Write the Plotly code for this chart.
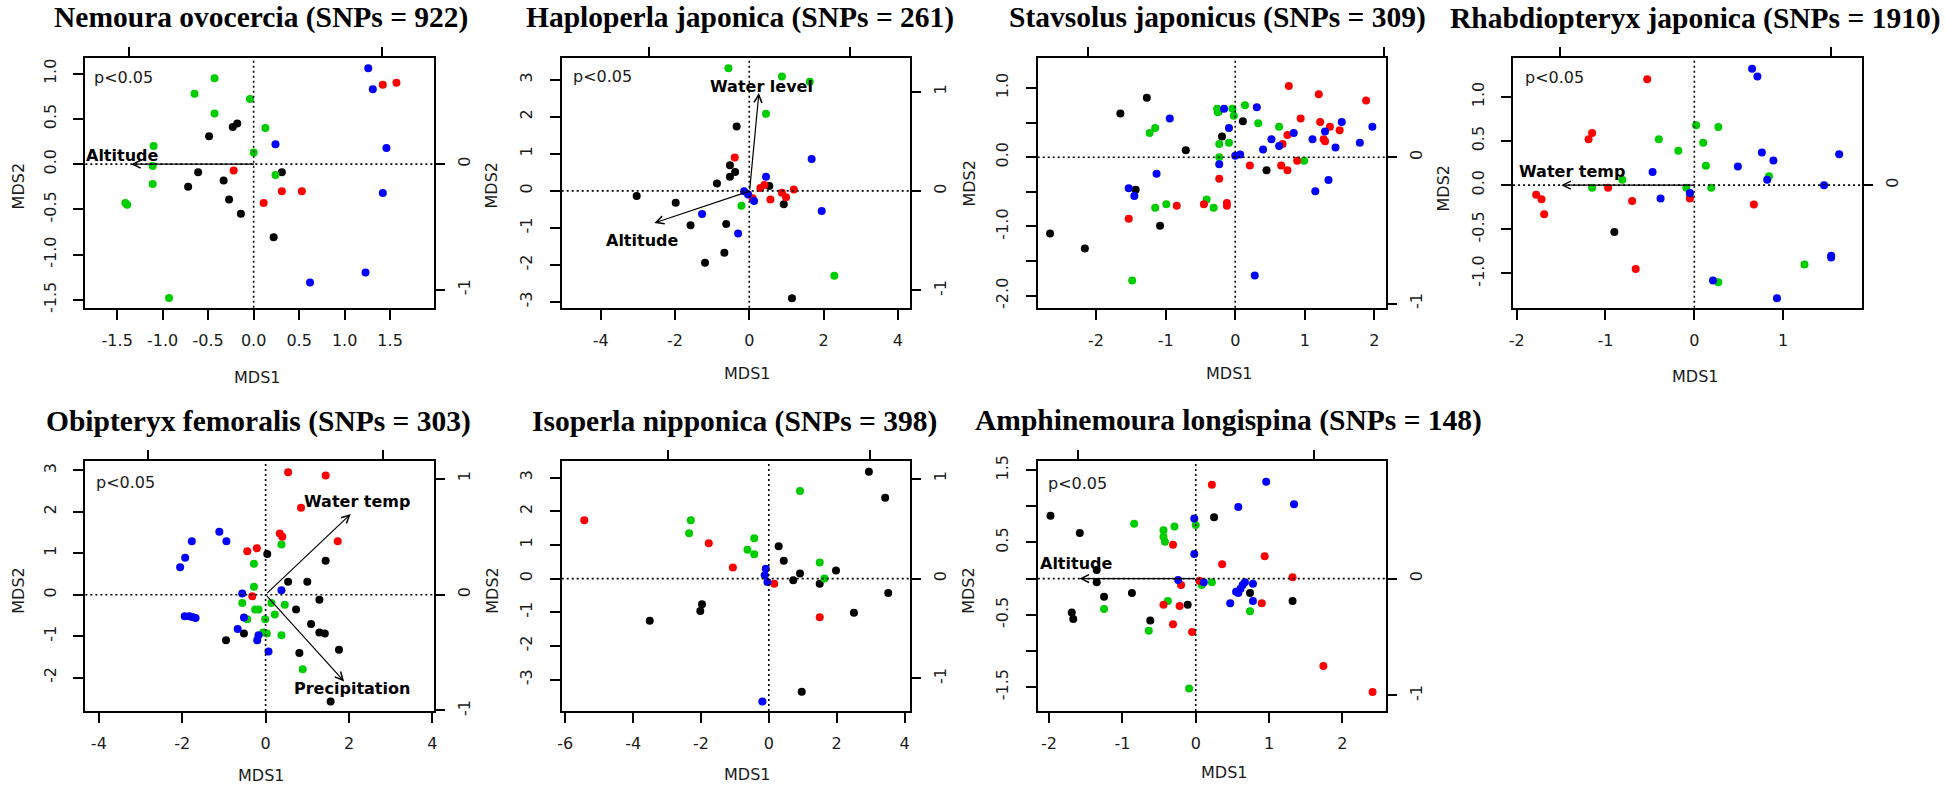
import plotly.graph_objects as go

W, H = 1946, 791
FONT = "DejaVu Sans"
TXT = "#1a1a1a"
COL = {"black": "#000000", "green": "#00CD00", "red": "#FF0000", "blue": "#0000FF"}

# ---------------- data (MDS1, MDS2) ----------------
NEM_GREEN = [(-0.43,0.95),(-0.65,0.78),(-0.04,0.72),(-0.43,0.56),(0.13,0.40),(-1.10,0.20),(0.00,0.13),(-1.11,-0.02),(0.24,-0.12),(-1.11,-0.22),(-1.41,-0.43),(-1.39,-0.45),(-0.93,-1.48)]
NEM_BLACK = [(-0.23,0.41),(-0.18,0.45),(-0.49,0.31),(-0.61,-0.09),(0.31,-0.09),(-0.72,-0.25),(-0.33,-0.18),(-0.27,-0.39),(-0.14,-0.55),(0.22,-0.81)]
NEM_RED = [(1.42,0.88),(1.57,0.90),(-0.22,-0.07),(0.31,-0.30),(0.53,-0.30),(0.11,-0.43)]
NEM_BLUE = [(1.26,1.06),(1.31,0.83),(0.24,0.22),(1.46,0.18),(1.42,-0.32),(1.23,-1.20),(0.62,-1.31)]

HAP_GREEN = [(-0.56,3.31),(0.88,3.09),(1.63,2.95),(0.45,2.08),(-0.21,-0.40),(2.29,-2.29)]
HAP_BLACK = [(-0.34,1.74),(-0.52,0.69),(-0.38,0.51),(-0.52,0.38),(-0.87,0.20),(-3.03,-0.14),(-1.98,-0.32),(-1.58,-0.93),(-0.62,-0.89),(-0.67,-1.67),(-1.19,-1.94),(0.54,0.13),(0.93,-0.36),(1.15,-2.90)]
HAP_RED = [(-0.39,0.90),(0.30,0.08),(0.41,0.16),(0.57,-0.23),(0.88,-0.05),(0.99,-0.17),(1.20,0.04),(0.09,-0.20)]
HAP_BLUE = [(0.45,0.38),(1.68,0.86),(-0.14,-0.01),(-0.03,-0.10),(0.13,-0.27),(-1.27,-0.62),(-0.30,-1.15),(1.95,-0.54)]

STA_BLACK = [(-2.66,-1.10),(-2.16,-1.32),(-1.65,0.63),(-1.27,0.86),(-0.71,0.10),(-1.43,-0.47),(-1.08,-0.99),(-0.19,0.30),(0.11,0.52),(0.45,-0.19),(-0.24,0.66)]
STA_GREEN = [(-1.48,-1.78),(-1.23,0.35),(-1.15,0.42),(-1.15,-0.73),(-0.99,-0.68),(-0.41,-0.61),(-0.31,-0.73),(-0.26,0.70),(-0.25,0.65),(-0.04,0.70),(-0.02,0.60),(0.14,0.75),(0.33,0.49),(0.63,0.44),(-0.23,0.19),(-0.09,0.21),(-0.23,0.00),(0.99,-0.05)]
STA_BLUE = [(-0.94,0.56),(-0.16,0.70),(-0.09,0.42),(0.31,0.72),(-0.23,-0.10),(-1.13,-0.24),(-1.53,-0.45),(-1.45,-0.56),(0.00,0.02),(0.07,0.04),(0.40,0.11),(0.52,0.26),(0.63,0.16),(0.84,0.35),(1.11,0.26),(1.29,0.37),(1.44,0.14),(1.53,0.51),(1.79,0.21),(1.97,0.44),(1.34,-0.33),(1.15,-0.49),(0.28,-1.71)]
STA_RED = [(-1.53,-0.89),(-0.84,-0.70),(-0.45,-0.68),(-0.12,-0.66),(-0.12,-0.70),(-0.23,-0.31),(0.21,-0.12),(0.66,-0.12),(0.75,-0.19),(0.89,-0.05),(0.68,0.19),(0.75,0.32),(0.94,0.56),(0.77,1.03),(1.20,0.91),(1.22,0.51),(1.36,0.44),(1.27,0.26),(1.29,0.23),(1.50,0.39),(1.88,0.82)]

RHA_RED = [(-0.53,1.20),(-1.15,0.59),(-1.19,0.52),(-0.97,-0.03),(-1.78,-0.11),(-1.72,-0.16),(-1.69,-0.33),(-0.70,-0.18),(-0.66,-0.95),(-0.05,-0.15),(0.67,-0.22)]
RHA_GREEN = [(-0.40,0.52),(-0.18,0.39),(0.02,0.68),(0.27,0.66),(0.10,0.48),(0.13,0.22),(0.19,-0.03),(-0.81,0.06),(-1.15,-0.03),(-0.09,-0.03),(-0.05,-0.11),(0.84,0.10),(1.24,-0.90),(0.27,-1.10)]
RHA_BLUE = [(0.65,1.32),(0.71,1.23),(0.76,0.37),(0.89,0.28),(1.63,0.35),(0.49,0.21),(0.82,0.06),(1.46,0.00),(-0.47,0.15),(-0.38,-0.15),(-0.05,-0.09),(1.54,-0.80),(1.54,-0.82),(0.21,-1.08),(0.93,-1.28)]
RHA_BLACK = [(-0.90,-0.53)]

OBI_BLUE = [(-1.11,1.52),(-0.94,1.29),(-1.77,1.29),(-1.93,0.89),(-2.05,0.66),(-0.56,0.03),(0.38,0.11),(-1.94,-0.52),(-1.83,-0.52),(-1.76,-0.54),(-1.68,-0.56),(-0.52,-0.55),(-0.67,-0.83),(-0.17,-0.98),(-0.20,-1.10),(0.07,-1.37)]
OBI_RED = [(0.54,2.96),(1.44,2.88),(0.85,2.10),(0.34,1.48),(0.40,1.40),(1.73,1.29),(-0.44,1.05),(-0.21,1.12),(-0.32,-0.04)]
OBI_BLACK = [(0.04,0.98),(1.44,0.82),(0.54,0.31),(1.00,0.31),(1.29,-0.12),(0.73,-0.36),(1.09,-0.71),(1.29,-0.91),(1.42,-0.94),(1.76,-1.33),(0.81,-1.41),(-0.95,-1.10),(-0.52,-0.94),(1.56,-2.58)]
OBI_GREEN = [(0.38,1.21),(-0.28,0.75),(-0.28,0.19),(-0.56,-0.20),(-0.25,-0.36),(-0.17,-0.36),(-0.44,-0.59),(-0.01,-0.59),(0.14,-0.20),(0.46,-0.24),(0.22,-0.48),(-0.06,-0.91),(0.03,-0.94),(0.38,-0.98),(0.89,-1.80)]

ISO_BLACK = [(2.95,3.17),(3.43,2.40),(3.52,-0.43),(2.51,-1.01),(1.98,0.24),(1.50,-0.15),(0.92,0.15),(0.72,-0.05),(0.44,0.53),(0.29,0.96),(-1.97,-0.76),(-2.02,-0.96),(-3.51,-1.25),(0.97,-3.36)]
ISO_GREEN = [(0.92,2.60),(-2.30,1.73),(-2.35,1.35),(-0.43,1.20),(-0.63,0.86),(-0.43,0.72),(1.50,0.48),(1.64,0.00)]
ISO_RED = [(-5.44,1.73),(-1.77,1.05),(-1.06,0.33),(0.16,-0.15),(1.50,-1.15)]
ISO_BLUE = [(-0.09,0.29),(-0.12,0.10),(-0.04,-0.10),(-0.19,-3.65)]

AMP_BLACK = [(-1.98,0.87),(-1.58,0.63),(-1.35,0.12),(-1.35,-0.05),(-1.25,-0.25),(-1.69,-0.47),(-1.67,-0.56),(-0.87,-0.20),(-0.62,-0.58),(-0.11,-0.36),(0.25,0.85),(0.74,-0.20),(1.32,-0.31)]
AMP_GREEN = [(-0.84,0.76),(-0.44,0.67),(-0.29,0.72),(-0.44,0.58),(-0.42,0.51),(0.00,0.74),(-0.38,-0.31),(-1.25,-0.42),(-0.64,-0.72),(-0.09,-1.52),(0.08,-0.09),(0.09,-0.07),(0.22,-0.05),(0.74,-0.45)]
AMP_RED = [(0.22,1.30),(-0.31,0.47),(0.36,0.20),(0.94,0.31),(1.32,0.02),(-0.20,-0.09),(-0.44,-0.36),(-0.22,-0.38),(-0.31,-0.63),(-0.05,-0.74),(0.90,-0.34),(1.74,-1.21),(2.41,-1.57),(0.05,-0.03)]
AMP_BLUE = [(0.96,1.34),(1.34,1.03),(0.58,0.99),(-0.02,0.83),(-0.02,0.34),(-0.24,-0.02),(0.11,-0.05),(0.67,-0.05),(0.64,-0.09),(0.61,-0.14),(0.55,-0.18),(0.58,-0.20),(0.78,-0.07),(0.78,-0.31),(0.47,-0.34)]

# environmental vectors (label, tip x, tip y) in biplot units
NEM_VEC = [("Altitude", -0.98, 0.0)]
HAP_VEC = [("Water level", 0.093, 0.987), ("Altitude", -0.950, -0.321)]
RHA_VEC = [("Water temp", -0.988, 0.0)]
OBI_VEC = [("Water temp", 0.724, 0.695), ("Precipitation", 0.668, -0.749)]
AMP_VEC = [("Altitude", -0.99, 0.0)]

TITLES = ["Nemoura ovocercia (SNPs = 922)", "Haploperla japonica (SNPs = 261)",
          "Stavsolus japonicus (SNPs = 309)", "Rhabdiopteryx japonica (SNPs = 1910)",
          "Obipteryx femoralis (SNPs = 303)", "Isoperla nipponica (SNPs = 398)",
          "Amphinemoura longispina (SNPs = 148)"]

def seq(a, b, s):
    n = int(round((b - a) / s))
    return [round(a + i * s, 3) for i in range(n + 1)]

def lab1(v):
    return f"{v:.1f}".replace("-0.0", "0.0")

def labi(v):
    return str(int(v))

panels = [
    dict(box=(81.7, 52.7, 431.7, 306), xr=[-1.850, 1.982], yr=[-1.589, 1.175],
         x2r=[-1.340, 1.405], y2r=[-1.144, 0.846],
         xt=seq(-1.5, 1.5, 0.5), xf=lab1, yt=seq(-1.5, 1.0, 0.5), yf=lab1, yskip=[],
         rt=[-1, 0], pts=dict(black=NEM_BLACK, green=NEM_GREEN, red=NEM_RED, blue=NEM_BLUE),
         vec=NEM_VEC, vlab=[(-1.052, 0.065)], p=(120, 73),
         title=(258, 12), mds1=(254, 377), mds2=[(15, 183)]),
    dict(box=(560, 52.7, 909.3, 306), xr=[-5.049, 4.316], yr=[-3.154, 3.589],
         x2r=[-1.874, 1.596], y2r=[-1.175, 1.341],
         xt=seq(-4, 4, 2), xf=labi, yt=seq(-3, 3, 1), yf=labi, yskip=[],
         rt=[-1, 0, 1], pts=dict(black=HAP_BLACK, green=HAP_GREEN, red=HAP_RED, blue=HAP_BLUE),
         vec=HAP_VEC, vlab=[(0.119, 1.053), (-1.073, -0.497)], p=(601, 72),
         title=(739, 12), mds1=(746, 373), mds2=[(489, 182), (969, 180)]),
    dict(box=(1038, 52.7, 1387.3, 306), xr=[-2.837, 2.160], yr=[-2.174, 1.433],
         x2r=[-1.343, 1.012], y2r=[-1.029, 0.679],
         xt=seq(-2, 2, 1), xf=labi, yt=seq(-2, 1, 0.5), yf=lab1, yskip=[-1.5, -0.5, 0.5],
         rt=[-1, 0], pts=dict(black=STA_BLACK, green=STA_GREEN, red=STA_RED, blue=STA_BLUE),
         vec=[], vlab=[], p=None,
         title=(1219, 12), mds1=(1230, 373), mds2=[(1445, 185)]),
    dict(box=(1515.3, 52.7, 1865.3, 306), xr=[-2.040, 1.883], yr=[-1.389, 1.441],
         x2r=[-1.343, 1.228], y2r=[-0.913, 0.947],
         xt=seq(-2, 1, 1), xf=labi, yt=seq(-1, 1, 0.5), yf=lab1, yskip=[],
         rt=[0], pts=dict(black=RHA_BLACK, green=RHA_GREEN, red=RHA_RED, blue=RHA_BLUE),
         vec=RHA_VEC, vlab=[(-0.909, 0.098)], p=(1557, 73),
         title=(1698, 13), mds1=(1698, 376), mds2=[]),
    dict(box=(81.7, 461.7, 431.7, 715), xr=[-4.323, 4.037], yr=[-2.810, 3.222],
         x2r=[-1.534, 1.432], y2r=[-1.005, 1.150],
         xt=seq(-4, 4, 2), xf=labi, yt=seq(-2, 3, 1), yf=labi, yskip=[],
         rt=[-1, 0, 1], pts=dict(black=OBI_BLACK, green=OBI_GREEN, red=OBI_RED, blue=OBI_BLUE),
         vec=OBI_VEC, vlab=[(0.777, 0.802), (0.734, -0.808)], p=(122, 483),
         title=(256, 421), mds1=(258, 780), mds2=[(15, 593)]),
    dict(box=(560, 461.7, 909.3, 715), xr=[-6.106, 4.149], yr=[-3.932, 3.483],
         x2r=[-2.056, 1.391], y2r=[-1.326, 1.174],
         xt=seq(-6, 4, 2), xf=labi, yt=seq(-3, 3, 1), yf=labi, yskip=[],
         rt=[-1, 0, 1], pts=dict(black=ISO_BLACK, green=ISO_GREEN, red=ISO_RED, blue=ISO_BLUE),
         vec=[], vlab=[], p=None,
         title=(734, 421), mds1=(746, 779), mds2=[(491, 593), (969, 593)]),
    dict(box=(1038, 461.7, 1387.3, 715), xr=[-2.154, 2.588], yr=[-1.832, 1.623],
         x2r=[-1.343, 1.605], y2r=[-1.134, 1.004],
         xt=seq(-2, 2, 1), xf=labi, yt=seq(-1.5, 1.5, 0.5), yf=lab1, yskip=[-1.0, 0.0, 1.0],
         rt=[-1, 0], pts=dict(black=AMP_BLACK, green=AMP_GREEN, red=AMP_RED, blue=AMP_BLUE),
         vec=AMP_VEC, vlab=[(-1.020, 0.132)], p=(1078, 484),
         title=(1230, 420), mds1=(1225, 777), mds2=[]),
]

fig = go.Figure()
layout = dict(width=W, height=H, margin=dict(l=0, r=0, t=0, b=0),
              paper_bgcolor="white", plot_bgcolor="white", showlegend=False)
annotations, shapes = [], []

tickfont = dict(family=FONT, size=16, color=TXT)
common = dict(showgrid=False, zeroline=False, ticks="outside", ticklen=10, tickwidth=1.5,
              tickcolor="black", tickfont=tickfont)

def px(x):
    return x / W

def py(y):
    return 1 - y / H

def text_ann(x, y, text, font, **kw):
    d = dict(x=px(x), y=py(y), xref="paper", yref="paper", text=text, showarrow=False,
             xanchor="center", yanchor="middle", font=font)
    d.update(kw)
    return d

for k, P in enumerate(panels, start=1):
    a, b = 2 * k - 1, 2 * k
    xa, ya = ("x" if a == 1 else f"x{a}"), ("y" if a == 1 else f"y{a}")
    xb, yb = f"x{b}", f"y{b}"
    L, T, R, B = P["box"]
    layout["xaxis" if a == 1 else f"xaxis{a}"] = dict(
        domain=[L / W, R / W], range=P["xr"], anchor=ya,
        tickvals=P["xt"], ticktext=[P["xf"](v) for v in P["xt"]],
        showline=True, linewidth=2, linecolor="black", mirror=True,
        ticklabelstandoff=7, **common)
    layout["yaxis" if a == 1 else f"yaxis{a}"] = dict(
        domain=[1 - B / H, 1 - T / H], range=P["yr"], anchor=xa,
        tickvals=P["yt"], ticktext=["" if v in P["yskip"] else P["yf"](v) for v in P["yt"]],
        tickangle=-90, showline=True, linewidth=2, linecolor="black", mirror=True,
        ticklabelstandoff=11, **common)
    layout[f"xaxis{b}"] = dict(overlaying=xa, side="top", anchor=ya, range=P["x2r"],
                               tickvals=[-1, 1], showticklabels=False, showline=False, **common)
    layout[f"yaxis{b}"] = dict(overlaying=ya, side="right", anchor=xa, range=P["y2r"],
                               tickvals=P["rt"], ticktext=[str(v) for v in P["rt"]],
                               tickangle=-90, showline=False, ticklabelstandoff=6, **common)

    # zero lines
    dot = dict(color="black", width=1.6, dash="2px,3px")
    shapes.append(dict(type="line", xref=xa, yref=f"{ya} domain", x0=0, x1=0, y0=0, y1=1, line=dot))
    shapes.append(dict(type="line", xref=f"{xa} domain", yref=ya, x0=0, x1=1, y0=0, y1=0, line=dot))

    # points
    for cname in ["black", "green", "red", "blue"]:
        pts = P["pts"][cname]
        fig.add_trace(go.Scatter(x=[p[0] for p in pts], y=[p[1] for p in pts], xaxis=xa, yaxis=ya,
                                 mode="markers", hoverinfo="skip",
                                 marker=dict(size=8, color=COL[cname], line=dict(width=0))))
    # secondary (biplot) axes carrier
    fig.add_trace(go.Scatter(x=[0], y=[0], xaxis=xb, yaxis=yb, mode="markers",
                             marker=dict(size=1, opacity=0), hoverinfo="skip"))

    # vectors
    for (lab, vx, vy), (lx, ly) in zip(P["vec"], P["vlab"]):
        annotations.append(dict(x=vx, y=vy, ax=0, ay=0, xref=xb, yref=yb, axref=xb, ayref=yb,
                                text="", showarrow=True, arrowhead=5, arrowsize=1.3,
                                arrowwidth=1.2, arrowcolor="black"))
        annotations.append(dict(x=lx, y=ly, xref=xb, yref=yb, text=f"<b>{lab}</b>", showarrow=False,
                                xanchor="center", yanchor="middle",
                                font=dict(family=FONT, size=16, color="black")))
    if P["p"]:
        annotations.append(text_ann(P["p"][0], P["p"][1], "p<0.05", dict(family=FONT, size=16, color=TXT)))
    annotations.append(text_ann(P["title"][0], P["title"][1], f"<b>{TITLES[k-1]}</b>",
                                dict(family="Liberation Serif", size=29.5, color="black")))
    annotations.append(text_ann(P["mds1"][0], P["mds1"][1], "MDS1", dict(family=FONT, size=16, color=TXT)))
    for (mx, my) in P["mds2"]:
        annotations.append(text_ann(mx, my, "MDS2", dict(family=FONT, size=16, color=TXT), textangle=-90))

layout["annotations"] = annotations
layout["shapes"] = shapes
fig.update_layout(**layout)
fig.write_html("out.html", config={"displayModeBar": False},
               post_script="document.body.style.margin='0px';document.body.style.padding='0px';"
                           "document.documentElement.style.overflow='hidden';")
